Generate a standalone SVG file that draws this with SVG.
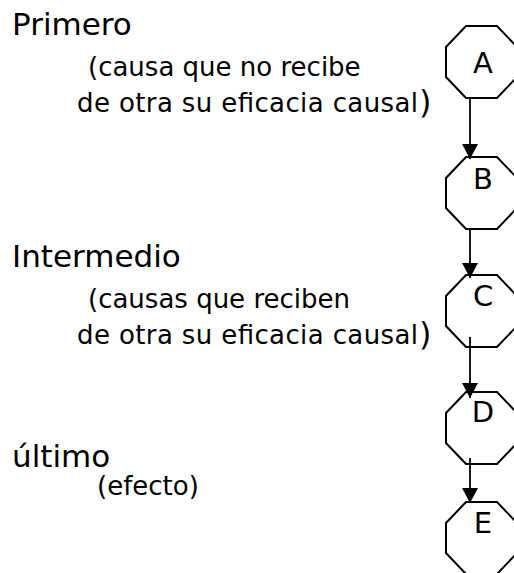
<svg xmlns="http://www.w3.org/2000/svg" width="514" height="573" viewBox="0 0 514 573">
<style>
.t{font-family:"DejaVu Sans","Liberation Sans",sans-serif;fill:#000}
.h{font-size:31px}
.s{font-size:26px}
.p{font-size:32px}
.n{font-size:29px;text-anchor:middle}
.oct{fill:#fff;stroke:#000;stroke-width:2}
.con{stroke:#000;stroke-width:1.8;fill:none}
</style>
<defs>
<marker id="arr" markerUnits="userSpaceOnUse" markerWidth="16" markerHeight="16" refX="15" refY="8" orient="auto" viewBox="0 0 16 16">
<path d="M0,0 L15,8 L0,16 z" fill="#000"/>
</marker>
<polygon id="octShape" points="20,0 51,0 71,21 71,51 51,72 20,72 0,51 0,21"/>
</defs>
<rect width="514" height="573" fill="#fff"/>
<g id="labels">
<text class="t h" x="12" y="35">Primero</text>
<text class="t s" x="88" y="76">(causa que no recibe</text>
<text class="t s" x="77" y="112" textLength="341">de otra su eficacia causal</text>
<text class="t p" x="419" y="113">)</text>
<text class="t h" x="12" y="267">Intermedio</text>
<text class="t s" x="88" y="308">(causas que reciben</text>
<text class="t s" x="77" y="344" textLength="341">de otra su eficacia causal</text>
<text class="t p" x="419" y="345">)</text>
<text class="t h" x="12" y="467">último</text>
<text class="t s" x="97" y="495">(efecto)</text>
</g>
<g id="nodeA"><use href="#octShape" class="oct" x="446" y="26"/><text class="t n" x="483" y="73">A</text></g>
<g id="nodeB"><use href="#octShape" class="oct" x="446" y="157"/><text class="t n" x="483" y="189">B</text></g>
<g id="nodeC"><use href="#octShape" class="oct" x="446" y="275"/><text class="t n" x="483" y="306">C</text></g>
<g id="nodeD"><use href="#octShape" class="oct" x="446" y="392"/><text class="t n" x="483" y="422">D</text></g>
<g id="nodeE"><use href="#octShape" class="oct" x="446" y="502"/><text class="t n" x="483" y="533">E</text></g>
<g id="connectors">
<line class="con" x1="470" y1="98" x2="470" y2="159" marker-end="url(#arr)"/>
<line class="con" x1="470" y1="230" x2="470" y2="278" marker-end="url(#arr)"/>
<line class="con" x1="470" y1="337" x2="470" y2="398" marker-end="url(#arr)"/>
<line class="con" x1="470" y1="458" x2="470" y2="503" marker-end="url(#arr)"/>
</g>
</svg>
